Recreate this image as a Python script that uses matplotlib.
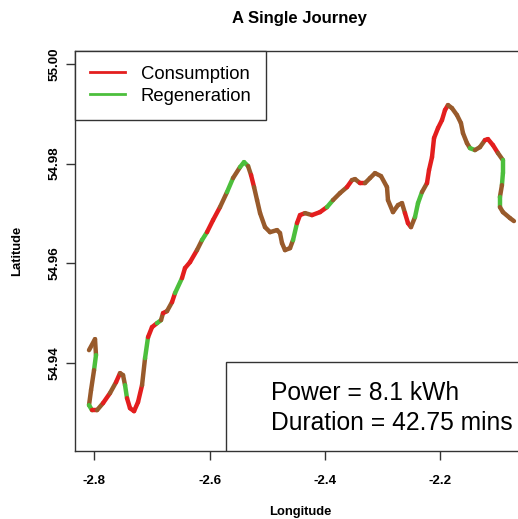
"""Single journey trace coloured by consumption / regeneration."""

import matplotlib

matplotlib.use("Agg")
import matplotlib.pyplot as plt
import numpy as np
from matplotlib.collections import LineCollection
from matplotlib.lines import Line2D
from matplotlib.patches import Rectangle

plt.rcParams["font.family"] = ["Liberation Sans", "DejaVu Sans"]

# route points (longitude, latitude)
longitude = [
    -2.8092, -2.7988, -2.7971, -2.8005, -2.8057, -2.8092, -2.8040, -2.7953,
    -2.7849, -2.7728, -2.7623, -2.7554, -2.7502, -2.7467, -2.7433, -2.7381,
    -2.7311, -2.7242, -2.7172, -2.7120, -2.7068, -2.6999, -2.6912, -2.6843,
    -2.6808, -2.6739, -2.6652, -2.6600, -2.6479, -2.6427, -2.6340, -2.6219,
    -2.6132, -2.6045, -2.5941, -2.5820, -2.5698, -2.5594, -2.5472, -2.5403,
    -2.5333, -2.5281, -2.5229, -2.5177, -2.5125, -2.5039, -2.4952, -2.4831,
    -2.4779, -2.4744, -2.4692, -2.4605, -2.4553, -2.4484, -2.4432, -2.4345,
    -2.4224, -2.4085, -2.3964, -2.3860, -2.3738, -2.3617, -2.3530, -2.3478,
    -2.3391, -2.3305, -2.3218, -2.3131, -2.3027, -2.2923, -2.2906, -2.2819,
    -2.2732, -2.2663, -2.2611, -2.2559, -2.2507, -2.2437, -2.2385, -2.2316,
    -2.2229, -2.2194, -2.2142, -2.2107, -2.2038, -2.1969, -2.1917, -2.1865,
    -2.1796, -2.1709, -2.1640, -2.1605, -2.1536, -2.1484, -2.1397, -2.1310,
    -2.1224, -2.1172, -2.1085, -2.0998, -2.0912, -2.0912, -2.0929, -2.0964,
    -2.0964, -2.0912, -2.0790, -2.0721,
]
latitude = [
    54.94255, 54.94476, 54.94155, 54.93853, 54.93452, 54.93151, 54.93050,
    54.93050, 54.93191, 54.93392, 54.93612, 54.93793, 54.93753, 54.93552,
    54.93291, 54.93090, 54.93030, 54.93211, 54.93552, 54.94094, 54.94516,
    54.94717, 54.94797, 54.94857, 54.94998, 54.95038, 54.95219, 54.95400,
    54.95701, 54.95902, 54.96022, 54.96263, 54.96464, 54.96624, 54.96865,
    54.97126, 54.97428, 54.97709, 54.97930, 54.98030, 54.97950, 54.97769,
    54.97528, 54.97267, 54.97006, 54.96725, 54.96624, 54.96665, 54.96604,
    54.96404, 54.96263, 54.96303, 54.96464, 54.96805, 54.96966, 54.97006,
    54.96966, 54.97026, 54.97126, 54.97267, 54.97408, 54.97528, 54.97669,
    54.97689, 54.97608, 54.97608, 54.97709, 54.97809, 54.97749, 54.97528,
    54.97267, 54.97026, 54.97167, 54.97207, 54.97006, 54.96805, 54.96725,
    54.96926, 54.97207, 54.97428, 54.97608, 54.97869, 54.98130, 54.98512,
    54.98713, 54.98873, 54.99074, 54.99175, 54.99114, 54.98974, 54.98813,
    54.98612, 54.98412, 54.98311, 54.98271, 54.98331, 54.98472, 54.98492,
    54.98371, 54.98211, 54.98070, 54.97809, 54.97568, 54.97327, 54.97126,
    54.97026, 54.96906, 54.96846,
]
# state of each leg: C = consumption, R = regeneration, B = both overlapping
leg_state = (
    "BBRBBRCBCB" "CBBRCCCCBR" "CCRBCBCRCC" "CBRCCBRBRR" "BCBBBBBBBB"
    "BBRCCBCCRB" "BCBBCBBBBB" "BBBBCCBRRB" "CCCCCCCBBB" "BBBRBBCCCB"
    "RRBRBBB"
)

x_ticks = [-2.8, -2.6, -2.4, -2.2]
y_ticks = [54.94, 54.96, 54.98, 55.00]
legend_labels = ["Consumption", "Regeneration"]
summary_lines = ["Power = 8.1 kWh", "Duration = 42.75 mins"]

state_colours = {"C": "#e31e1e", "R": "#4cbf3c", "B": "#985a2b"}
axis_colour = "#333333"

figure = plt.figure(figsize=(5.18, 5.19), dpi=100)
axis = figure.add_axes([0.1448, 0.1310, 0.8687, 0.7707])

points = np.column_stack([longitude, latitude])
segments = np.stack([points[:-1], points[1:]], axis=1)
assert len(leg_state) == len(segments)
route = LineCollection(
    segments,
    colors=[state_colours[state] for state in leg_state],
    linewidths=3.2,
    capstyle="round",
    joinstyle="round",
)
axis.add_collection(route)

axis.set_xlim(-2.8335, -2.0529)
axis.set_ylim(54.9223, 55.0026)
axis.set_xticks(x_ticks, labels=[f"{tick:.1f}" for tick in x_ticks])
axis.set_yticks(y_ticks, labels=[f"{tick:.2f}" for tick in y_ticks])
for label in axis.get_yticklabels():
    label.set_rotation(90)
    label.set_va("center")
axis.tick_params(
    axis="x", length=6.5, width=1, color=axis_colour, pad=10.5, labelsize=9.6
)
axis.tick_params(
    axis="y", length=6.5, width=1, color=axis_colour, pad=4.0, labelsize=9.6
)
for label in axis.get_xticklabels() + axis.get_yticklabels():
    label.set_fontweight("bold")
for spine in axis.spines.values():
    spine.set_color(axis_colour)
    spine.set_linewidth(1)

axis.set_xlabel("Longitude", fontsize=9.4, fontweight="bold")
axis.set_ylabel("Latitude", fontsize=9.4, fontweight="bold")
axis.xaxis.set_label_coords(0.5, -0.1375)
axis.yaxis.set_label_coords(-0.1156, 0.5)

figure.text(
    299.7 / 518,
    1 - 18.8 / 519,
    "A Single Journey",
    ha="center",
    va="center",
    fontsize=12,
    fontweight="bold",
)

handles = [
    Line2D([], [], color=state_colours["C"], linewidth=2),
    Line2D([], [], color=state_colours["R"], linewidth=2),
]
legend = axis.legend(
    handles,
    legend_labels,
    loc="upper left",
    bbox_to_anchor=(0, 1),
    borderaxespad=0,
    fancybox=False,
    framealpha=1,
    edgecolor=axis_colour,
    fontsize=13.3,
    handlelength=1.9,
    handletextpad=0.85,
    labelspacing=0.27,
    borderpad=0.8,
)
legend.get_frame().set_linewidth(1)

summary_box = Rectangle(
    (0.3356, 0),
    0.7,
    0.2233,
    transform=axis.transAxes,
    facecolor="white",
    edgecolor=axis_colour,
    linewidth=1,
    zorder=3,
)
axis.add_patch(summary_box)
for index, text in enumerate(summary_lines):
    axis.text(
        0.4356,
        0.145 - index * 0.075,
        text,
        transform=axis.transAxes,
        ha="left",
        va="center",
        fontsize=17.7,
        zorder=4,
    )

figure.savefig("out.png", dpi=100)
